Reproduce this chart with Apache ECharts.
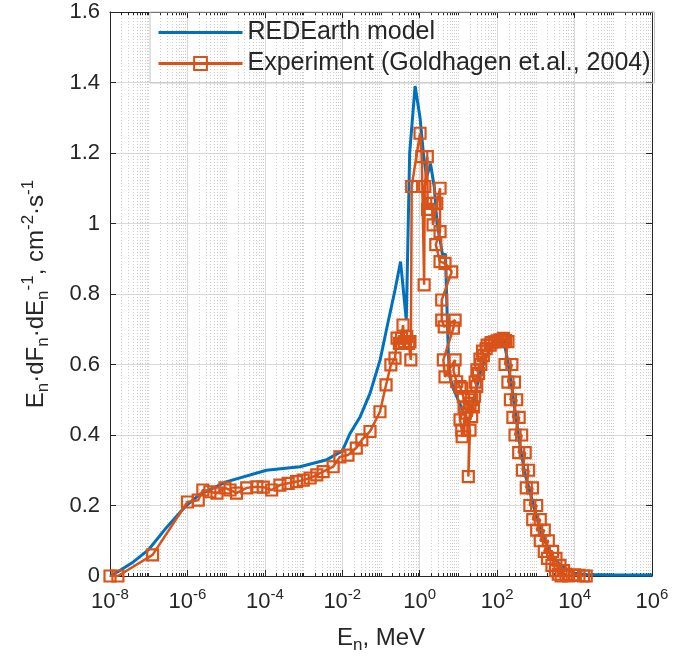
<!DOCTYPE html>
<html><head><meta charset="utf-8">
<script src="https://cdn.jsdelivr.net/npm/echarts@6/dist/echarts.min.js"></script>
<style>html,body{margin:0;padding:0;background:#fff}#c{width:696px;height:664px}</style>
</head><body><div id="c"></div>
<script>
// ---- data (energy in MeV, flux) ----
const modelE = [1e-8, 1.6e-8, 4e-8, 1e-7, 3e-7, 8.6e-7, 2e-6, 1e-5, 1.1e-4, 8e-4, 4e-3, 1e-2, 1.6e-2, 2.9e-2, 5.2e-2, 9.5e-2, 0.15, 0.23, 0.32, 0.45, 0.55, 0.76, 1.02, 1.24, 1.5, 1.9, 2.4, 2.8, 3.4, 4.0, 4.6, 5.0, 5.5, 6.0, 7.5, 9.8, 13, 17, 20, 25, 35, 50, 70, 100, 150, 195, 250, 355, 500, 870, 1300, 1700, 2500, 4000, 6300, 1e4, 2e4, 1e5, 1e6];
const modelFlux = [0.0, 0.012, 0.04, 0.075, 0.14, 0.196, 0.23, 0.267, 0.30, 0.31, 0.33, 0.355, 0.405, 0.452, 0.518, 0.613, 0.717, 0.811, 0.892, 0.726, 1.2, 1.39, 1.3, 1.2, 1.13, 1.17, 1.1, 1.0, 0.95, 0.9, 0.915, 0.78, 0.63, 0.565, 0.53, 0.5, 0.47, 0.44, 0.45, 0.5, 0.57, 0.62, 0.65, 0.66, 0.665, 0.6, 0.52, 0.4, 0.3, 0.2, 0.13, 0.1, 0.06, 0.035, 0.02, 0.008, 0.004, 0.003, 0.003];

const expE = [1e-8, 1.6e-8, 1.26e-7, 1e-6, 1.9e-6, 2.5e-6, 3.8e-6, 5.8e-6, 9.3e-6, 1.26e-5, 1.86e-5, 3.4e-5, 6.2e-5, 9.1e-5, 1.5e-4, 2.45e-4, 4e-4, 6.6e-4, 9.8e-4, 1.48e-3, 2.2e-3, 3.2e-3, 5.8e-3, 8.7e-3, 1.4e-2, 2.3e-2,
  3.2e-2, 5.2e-2, 9.4e-2, 0.135, 0.18, 0.23, 0.26, 0.3, 0.34, 0.37, 0.4, 0.46, 0.52, 0.56, 0.59,
  0.62, 1.02, 1.13, 1.3, 1.35, 1.57, 1.6, 2.05, 2.21, 2.75, 3.35, 3.35, 2.6, 3.35, 4.5, 6.7, 3.7, 3.7, 4.3, 8.2, 7.4, 4.08, 4.5, 8.2, 7.4, 9.0, 11, 12.2, 13.4, 14, 11, 12.2, 12.5, 15, 19.9, 18, 19.9, 22,
  24.3, 22, 26, 29.7, 27, 33, 30, 38, 36, 44, 42, 52, 55, 66, 70, 85, 100, 119, 130, 145, 165, 190,
  160, 240, 190, 280, 220, 320, 255, 370, 290, 430, 360, 530, 450, 650, 565, 820, 700, 1050, 830, 1300, 1050, 1650, 1300, 2100, 1650, 2700, 2000, 3300, 2600, 4200, 3200, 5200, 3800, 6000, 4500, 7000,
  1e4, 1.3e4, 1.7e4, 2e4];
const expFlux = [0, 0, 0.06, 0.21, 0.215, 0.244, 0.239, 0.235, 0.25, 0.244, 0.235, 0.25, 0.253, 0.252, 0.244, 0.258, 0.263, 0.268, 0.272, 0.278, 0.287, 0.296, 0.31, 0.338, 0.343, 0.363,
  0.386, 0.41, 0.466, 0.542, 0.599, 0.618, 0.675, 0.66, 0.675, 0.712, 0.665, 0.679, 0.66, 0.665, 0.613,
  1.105, 1.256, 1.19, 0.826, 1.105, 1.19, 1.04, 1.057, 0.996, 1.057, 1.10, 0.977, 0.94, 0.892, 0.887, 0.863, 0.783, 0.726, 0.707, 0.726, 0.703, 0.613, 0.565, 0.613, 0.584, 0.551, 0.537, 0.533, 0.509, 0.48, 0.443, 0.414, 0.395, 0.462, 0.414, 0.282, 0.49, 0.452,
  0.48, 0.5, 0.51, 0.537, 0.55, 0.575, 0.585, 0.6, 0.615, 0.625, 0.638, 0.645, 0.655, 0.655, 0.662, 0.664, 0.667, 0.67, 0.665, 0.674, 0.668, 0.665,
  0.6, 0.6, 0.55, 0.55, 0.5, 0.5, 0.45, 0.45, 0.4, 0.4, 0.35, 0.35, 0.3, 0.3, 0.25, 0.25, 0.2, 0.2, 0.16, 0.16, 0.13, 0.13, 0.1, 0.1, 0.07, 0.07, 0.05, 0.05, 0.03, 0.03, 0.015, 0.015, 0.005, 0.005, 0.0, 0.0,
  0.003, 0.002, 0.0, 0.0];

const xMajorTicks = [1e-8, 1e-6, 1e-4, 1e-2, 1, 1e2, 1e4, 1e6];
const seriesNames = ['REDEarth model', 'Experiment (Goldhagen et.al., 2004)'];
const xTitle = 'E{tsub|n}, MeV';
const yTitle = 'E{tsub|n}·dF{tsub|n}·dE{tsub|n}{tsup|-1}, cm{tsup|-2}·s{tsup|-1}';

// minor grid positions on the log axis (2..9 x 10^n and odd decades)
const xMinorTicks = [];
for (let n = -8; n <= 5; n++) {
  for (let k = 1; k <= 9; k++) {
    if (k === 1 && n % 2 === 0) continue;
    xMinorTicks.push(Number((k * Math.pow(10, n)).toPrecision(6)));
  }
}

const FONT = 'Liberation Sans, Arial, Helvetica, sans-serif';
const TXT = '#262626';
const richStyles = {
  sup: {fontSize: 15, lineHeight: 15, verticalAlign: 'top', fontFamily: FONT, color: TXT},
  sub: {fontSize: 15, lineHeight: 15, verticalAlign: 'bottom', fontFamily: FONT, color: TXT},
  tsup: {fontSize: 17, lineHeight: 17, verticalAlign: 'top', fontFamily: FONT, color: TXT},
  tsub: {fontSize: 17, lineHeight: 17, verticalAlign: 'bottom', fontFamily: FONT, color: TXT}
};

const pairs = (xs, ys) => xs.map((x, i) => [x, ys[i]]);

const chart = echarts.init(document.getElementById('c'), null, {renderer: 'canvas'});
const xBase = {type: 'log', logBase: 10, min: 1e-8, max: 1e6, gridIndex: 0};
chart.setOption({
  animation: false,
  backgroundColor: '#fff',
  grid: {left: 110, right: 44, top: 12, bottom: 88, containLabel: false},
  legend: {
    left: 150, top: 12, orient: 'vertical',
    padding: [6, 4, 5, 7], itemGap: 2, itemWidth: 84, itemHeight: 16,
    borderColor: '#c4c4c4', borderWidth: 1, backgroundColor: 'transparent',
    textStyle: {fontFamily: FONT, fontSize: 25, color: TXT, lineHeight: 29},
    data: [
      {name: seriesNames[0], icon: 'path://M0,0H84V3H0Z', itemStyle: {color: '#0072BD'}},
      {name: seriesNames[1], lineStyle: {width: 3, color: '#D95319'}}
    ]
  },
  xAxis: [
    Object.assign({}, xBase, {
      position: 'bottom',
      name: xTitle, nameLocation: 'middle', nameGap: 35,
      nameTextStyle: {fontFamily: FONT, fontSize: 24, color: TXT, lineHeight: 32, rich: richStyles},
      axisLine: {show: true, lineStyle: {color: TXT, width: 1}},
      axisTick: {show: true, inside: true, length: 6, lineStyle: {color: TXT}, customValues: xMajorTicks},
      axisLabel: {show: true, margin: 11, fontFamily: FONT, fontSize: 22, color: TXT, lineHeight: 30,
        customValues: xMajorTicks, rich: richStyles,
        formatter: v => '10{sup|' + Math.round(Math.log10(v)) + '}'},
      splitLine: {show: true, lineStyle: {color: '#d9d9d9', width: 1}},
      minorTick: {show: false}
    }),
    Object.assign({}, xBase, {
      position: 'bottom',
      axisLine: {show: false},
      axisTick: {show: true, inside: true, length: 3, lineStyle: {color: TXT}, customValues: xMinorTicks},
      axisLabel: {show: false},
      splitLine: {show: true, lineStyle: {color: '#cccccc', width: 1, type: [1, 2]}}
    }),
    Object.assign({}, xBase, {
      position: 'top',
      axisLine: {show: true, lineStyle: {color: TXT, width: 1}},
      axisTick: {show: true, inside: true, length: 6, lineStyle: {color: TXT}, customValues: xMajorTicks},
      axisLabel: {show: false},
      splitLine: {show: false}
    }),
    Object.assign({}, xBase, {
      position: 'top',
      axisLine: {show: false},
      axisTick: {show: true, inside: true, length: 3, lineStyle: {color: TXT}, customValues: xMinorTicks},
      axisLabel: {show: false},
      splitLine: {show: false}
    })
  ],
  yAxis: [
    {
      type: 'value', min: 0, max: 1.6, interval: 0.2, position: 'left',
      name: yTitle, nameLocation: 'middle', nameRotate: 90, nameGap: 58,
      nameTextStyle: {fontFamily: FONT, fontSize: 24, color: TXT, lineHeight: 32, rich: richStyles},
      axisLine: {show: true, lineStyle: {color: TXT, width: 1}},
      axisTick: {show: true, inside: true, length: 6, lineStyle: {color: TXT}},
      axisLabel: {margin: 10, fontFamily: FONT, fontSize: 22, color: TXT},
      splitLine: {show: true, lineStyle: {color: '#d9d9d9', width: 1}}
    },
    {
      type: 'value', min: 0, max: 1.6, interval: 0.2, position: 'right',
      axisLine: {show: true, lineStyle: {color: TXT, width: 1}},
      axisTick: {show: true, inside: true, length: 6, lineStyle: {color: TXT}},
      axisLabel: {show: false},
      splitLine: {show: false}
    }
  ],
  series: [
    {
      name: seriesNames[0], type: 'line', xAxisIndex: 0, yAxisIndex: 0,
      data: pairs(modelE, modelFlux),
      showSymbol: false, symbol: 'none',
      lineStyle: {color: '#0072BD', width: 3},
      itemStyle: {color: '#0072BD'},
      z: 3
    },
    {
      name: seriesNames[1], type: 'line', xAxisIndex: 0, yAxisIndex: 0,
      data: pairs(expE, expFlux),
      showSymbol: true, symbol: 'rect', symbolSize: 11,
      lineStyle: {color: '#D95319', width: 2.5},
      itemStyle: {color: 'rgba(255,255,255,0)', borderColor: '#D95319', borderWidth: 2.2},
      z: 4
    }
  ]
});
</script></body></html>
